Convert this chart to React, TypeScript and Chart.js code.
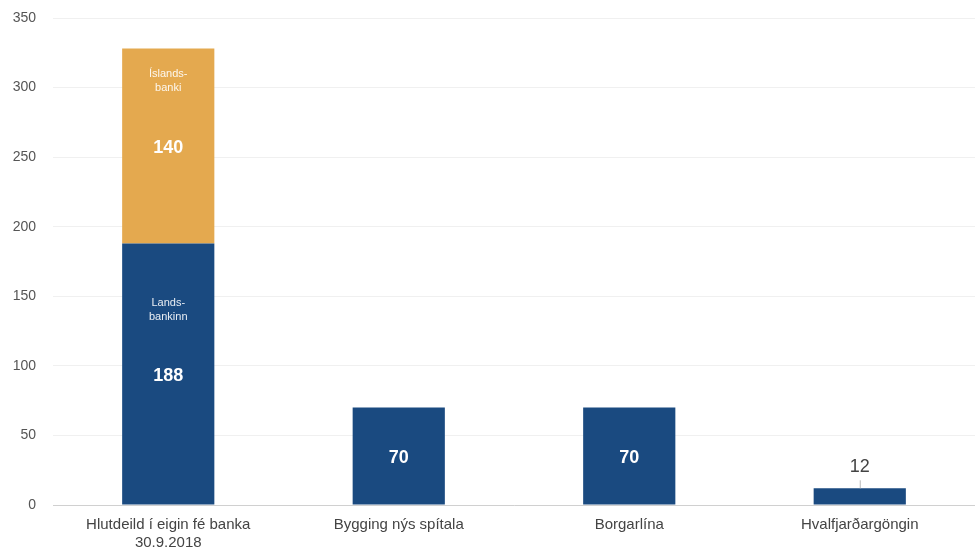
import React, { useEffect, useRef } from "react";
import { Chart, registerables } from "chart.js";

Chart.register(...registerables);

const categories: (string | string[])[] = [
  ["Hlutdeild í eigin fé banka", "30.9.2018"],
  "Bygging nýs spítala",
  "Borgarlína",
  "Hvalfjarðargöngin",
];
const landsbankinn = [188, 70, 70, 12];
const islandsbanki = [140, 0, 0, 0];
const seriesNames = [["Lands-", "bankinn"], ["Íslands-", "banki"]];
const yTicks = [0, 50, 100, 150, 200, 250, 300, 350];

const NAVY = "#1a4a80";
const ORANGE = "#e4a94f";

const labelPlugin = {
  id: "barLabels",
  afterDatasetsDraw(chart: any) {
    const ctx = chart.ctx;
    ctx.save();
    chart.data.datasets.forEach((ds: any, di: number) => {
      const meta = chart.getDatasetMeta(di);
      meta.data.forEach((bar: any, i: number) => {
        const v = ds.data[i];
        if (!v) return;
        const top = bar.y;
        const bottom = bar.base;
        const height = bottom - top;
        const cx = bar.x;
        ctx.textAlign = "center";
        ctx.textBaseline = "middle";
        if (height > 40) {
          const cy = (top + bottom) / 2;
          ctx.fillStyle = "#ffffff";
          ctx.font = "bold 18px 'Liberation Sans', Arial, sans-serif";
          ctx.fillText(String(v), cx, cy + 2);
          if (i === 0) {
            ctx.font = "11px 'Liberation Sans', Arial, sans-serif";
            ctx.fillStyle = "rgba(255,255,255,0.9)";
            const names = seriesNames[di];
            const off = di === 0 ? -71 : -72;
            ctx.fillText(names[0], cx, cy + off);
            ctx.fillText(names[1], cx, cy + off + 14);
          }
        } else {
          ctx.strokeStyle = "#bbbbbb";
          ctx.lineWidth = 1;
          ctx.beginPath();
          ctx.moveTo(cx + 0.5, top);
          ctx.lineTo(cx + 0.5, top - 8);
          ctx.stroke();
          ctx.fillStyle = "#444444";
          ctx.font = "18px 'Liberation Sans', Arial, sans-serif";
          ctx.fillText(String(v), cx, top - 21);
        }
      });
    });
    ctx.restore();
  },
};

export default function App() {
  const ref = useRef<HTMLCanvasElement | null>(null);
  useEffect(() => {
    document.body.style.margin = "0";
    const chart = new Chart(ref.current!, {
      type: "bar",
      data: {
        labels: categories,
        datasets: [
          { label: "Landsbankinn", data: landsbankinn, backgroundColor: NAVY, barPercentage: 0.8, categoryPercentage: 0.5 },
          { label: "Íslandsbanki", data: islandsbanki, backgroundColor: ORANGE, barPercentage: 0.8, categoryPercentage: 0.5 },
        ],
      },
      options: {
        animation: false,
        responsive: false,
        maintainAspectRatio: false,
        layout: { padding: { top: 18, right: 0, left: 0, bottom: 0 } },
        plugins: { legend: { display: false }, tooltip: { enabled: false } },
        scales: {
          x: {
            stacked: true,
            grid: { display: false, drawTicks: false },
            border: { display: true, color: "#d0d0d0" },
            ticks: {
              color: "#444444",
              font: { family: "'Liberation Sans', Arial, sans-serif", size: 15 },
              padding: 11,
              maxRotation: 0,
            },
            afterFit: (s: any) => { s.height = 51; s.paddingLeft = 0; s.paddingRight = 0; },
          },
          y: {
            stacked: true,
            min: 0,
            max: 350,
            afterBuildTicks: (s: any) => { s.ticks = yTicks.map((v) => ({ value: v })); },
            grid: { color: "#f0f0f0", drawTicks: false },
            border: { display: false },
            ticks: {
              color: "#555555",
              font: { family: "'Liberation Sans', Arial, sans-serif", size: 14 },
              padding: 17,
            },
            afterFit: (s: any) => { s.width = 53; s.paddingTop = 0; s.paddingBottom = 0; },
          },
        },
      },
      plugins: [labelPlugin],
    });
    return () => chart.destroy();
  }, []);
  return <canvas ref={ref} width={975} height={556} style={{ display: "block" }} />;
}
